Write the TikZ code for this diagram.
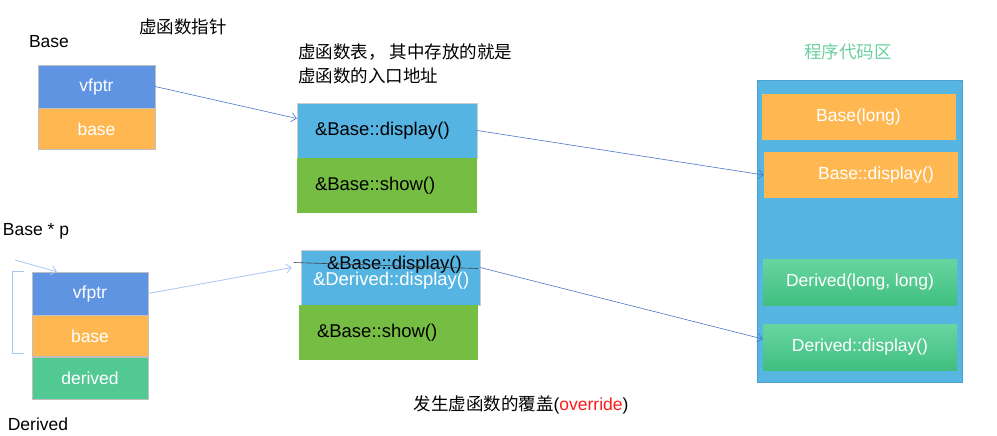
\documentclass[tikz,border=0pt]{standalone}
\usepackage{xcolor}
\usepackage{fontspec}
\setmainfont{Liberation Sans}
\newfontfamily\cjk{Noto Sans CJK SC}
\usepackage{tikz}
\usetikzlibrary{arrows.meta,positioning}

\definecolor{ptrblue}{HTML}{5E94E2}
\definecolor{fldorange}{HTML}{FFB851}
\definecolor{fldgreen}{HTML}{52C893}
\definecolor{tblblue}{HTML}{56B4E3}
\definecolor{tblgreen}{HTML}{76BD43}
\definecolor{regionblue}{HTML}{57B5E2}
\definecolor{regionline}{HTML}{4F9FD0}
\definecolor{titlegreen}{HTML}{6DCF9F}
\definecolor{darkarrow}{HTML}{4A76C9}
\definecolor{lightarrow}{HTML}{A8C6F2}
\definecolor{overred}{HTML}{FF1A1A}
\definecolor{codegreentop}{HTML}{68D5A0}
\definecolor{codegreenbot}{HTML}{40BF80}

\begin{document}
\begin{tikzpicture}[x=1pt,y=-1pt,>={Straight Barb[length=5pt,width=9pt]},
  font=\fontsize{17.5}{21}\selectfont,
  field/.style={minimum width=116pt,minimum height=43pt,inner sep=0pt,text=white,draw=black!25,line width=.4pt},
  entry/.style={minimum height=55pt,text width=144pt,inner xsep=18pt,inner ysep=0pt,align=left,font=\fontsize{18.5}{22}\selectfont},
  codebox/.style={minimum width=194pt,minimum height=46pt,inner sep=0pt,text=white},
  label/.style={inner sep=0pt},
  ptrline/.style={->,darkarrow,line width=.6pt},
  softline/.style={->,lightarrow,line width=.8pt}]
  \useasboundingbox (0,0) rectangle (997,436);

  \node[label] (title1) at (183,27) {\cjk 虚函数指针};
  \node[label] (baselbl) at (49,42) {Base};
  \node[label,anchor=west,align=left,font=\cjk\fontsize{17.5}{24}\selectfont] (title2) at (298,64) {虚函数表， 其中存放的就是\\虚函数的入口地址};
  \node[label,text=titlegreen] (title3) at (848,52) {\cjk 程序代码区};
  \node[label] (ptrlbl) at (36,231) {Base * p};
  \node[label] (derivedlbl) at (38,424) {Derived};
  \node[label] (overlbl) at (521,405) {{\cjk 发生虚函数的覆盖}(\textcolor{overred}{override})};

  \node[field,fill=ptrblue,minimum width=117pt] (bvfptr) at (96.5,86.5) {vfptr};
  \node[field,fill=fldorange,minimum width=117pt,minimum height=41pt] (bbase) [below=0pt of bvfptr] {base};

  \node[field,fill=ptrblue] (dvfptr) at (90,293.5) {vfptr};
  \node[field,fill=fldorange,minimum height=41pt] (dbase) [below=0pt of dvfptr] {base};
  \node[field,fill=fldgreen,minimum height=42pt] (dderived) [below=0pt of dbase] {derived};

  \node[entry,fill=tblblue,draw=black!20] (vt1disp) at (387,130.5) {\&Base::display()};
  \node[entry,fill=tblgreen] (vt1show) [below=0pt of vt1disp] {\&Base::show()};

  \node[entry,fill=tblblue,draw=black!20,text width=143pt] (vt2disp) at (390.5,277.5) {};
  \node[entry,fill=tblgreen,text width=143pt,inner xsep=16pt,minimum width=179pt] (vt2show) [below=0pt of vt2disp,xshift=-2pt] {\&Base::show()};
  \node[label,anchor=west,font=\fontsize{18.5}{22}\selectfont] (oldentry) at ([xshift=26pt,yshift=13pt]vt2disp.west) {\&Base::display()};
  \node[label,anchor=west,text=white,font=\fontsize{18.5}{22}\selectfont] (newentry) at ([xshift=12pt,yshift=-3pt]vt2disp.west) {\&Derived::display()};

  \node[minimum width=205pt,minimum height=302pt,fill=regionblue,draw=regionline,inner sep=0pt] (region) at (859.5,231) {};
  \node[codebox,fill=fldorange] (codector) at (858.5,117) {Base(long)};
  \node[codebox,fill=fldorange] (codedisp) at (861,175) {\hspace*{30pt}Base::display()};
  \node[codebox,top color=codegreentop,bottom color=codegreenbot] (codedctor) at (860,282) {Derived(long, long)};
  \node[codebox,top color=codegreentop,bottom color=codegreenbot] (codeddisp) at (860,347) {Derived::display()};

  \coordinate (pfrom) at (15,260);
  \draw[black!75,line width=.6pt] ([xshift=-33pt,yshift=2pt]oldentry.west) -- ([xshift=16pt,yshift=-4pt]oldentry.east);
  \draw[ptrline] (bvfptr.east) -- ([yshift=12pt]vt1disp.west);
  \draw[ptrline] (vt1disp.east) -- (codedisp.west);
  \draw[softline] (pfrom) -- ([xshift=25pt]dvfptr.north west);
  \draw[softline,-] ([xshift=-8pt]dvfptr.north west) -- ++(-11,0) |- ([xshift=-8pt,yshift=3pt]dbase.south west);
  \draw[softline] (dvfptr.east) -- ([xshift=-9pt,yshift=10pt]vt2disp.west);
  \draw[ptrline] ([yshift=10pt]vt2disp.east) -- ([yshift=8pt]codeddisp.west);
\end{tikzpicture}
\end{document}
